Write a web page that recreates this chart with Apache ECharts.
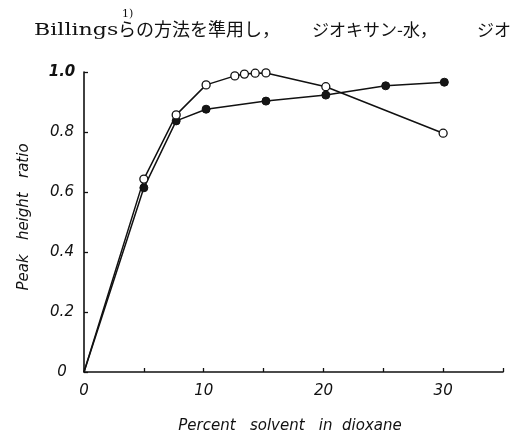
<!DOCTYPE html>
<html>
<head>
<meta charset="utf-8">
<script src="https://cdn.jsdelivr.net/npm/echarts@6.0.0/dist/echarts.min.js"></script>
<style>
  html, body { margin: 0; padding: 0; background: #fff; }
  #chart { width: 520px; height: 433px; }
</style>
</head>
<body>
<div id="chart"></div>
<script>
// Peak height ratio against percent solvent in dioxane
const percentOpen = [0, 5, 7.7, 10.2, 12.6, 13.4, 14.3, 15.2, 20.2, 30];
const ratioOpen = [0, 0.643, 0.857, 0.957, 0.987, 0.993, 0.996, 0.997, 0.951, 0.796];

const percentFilled = [0, 5, 7.7, 10.2, 15.2, 20.2, 25.2, 30.1];
const ratioFilled = [0, 0.614, 0.837, 0.876, 0.903, 0.923, 0.954, 0.966];

const xTickLabels = ['0', '10', '20', '30'];
const yTickLabels = ['0', '0.2', '0.4', '0.6', '0.8', '1.0'];

const ink = '#111';
const labelFont = 'DejaVu Sans, Liberation Sans, sans-serif';
const cjkFont = 'Noto Sans CJK JP, sans-serif';

// both curves start at the origin, which carries no marker
const pairs = (xs, ys) => xs.map((x, i) =>
  (x === 0 && ys[i] === 0) ? { value: [x, ys[i]], symbol: 'none' } : [x, ys[i]]);

const chart = echarts.init(document.getElementById('chart'), null, { renderer: 'canvas' });

chart.setOption({
  backgroundColor: '#fff',
  animation: false,
  grid: { left: 84, right: 17, top: 72, bottom: 61, containLabel: false },
  xAxis: {
    type: 'value',
    min: 0,
    max: 35,
    interval: 5,
    axisLine: { show: true, lineStyle: { color: ink, width: 1.6 } },
    axisTick: { show: true, inside: true, length: 4, lineStyle: { color: ink, width: 1.3 } },
    splitLine: { show: false },
    axisLabel: {
      margin: 12,
      color: ink,
      fontFamily: labelFont,
      fontStyle: 'italic',
      fontSize: 15,
      formatter: v => (v % 10 === 0 ? xTickLabels[v / 10] : '')
    }
  },
  yAxis: {
    type: 'value',
    min: 0,
    max: 1,
    interval: 0.2,
    axisLine: { show: true, lineStyle: { color: ink, width: 1.6 } },
    axisTick: { show: true, inside: true, length: 4, lineStyle: { color: ink, width: 1.3 } },
    splitLine: { show: false },
    axisLabel: {
      margin: 22,
      align: 'center',
      color: ink,
      fontFamily: labelFont,
      fontStyle: 'italic',
      fontSize: 15,
      formatter: v => {
        const i = Math.round(v / 0.2);
        return i === 5 ? '{top|' + yTickLabels[i] + '}' : yTickLabels[i];
      },
      rich: {
        top: { fontFamily: labelFont, fontStyle: 'italic', fontWeight: 'bold', fontSize: 15, color: ink }
      }
    }
  },
  series: [
    {
      name: 'filled',
      type: 'line',
      data: pairs(percentFilled, ratioFilled),
      symbol: 'circle',
      symbolSize: 8,
      showSymbol: true,
      lineStyle: { color: ink, width: 1.5 },
      itemStyle: { color: '#151515', borderColor: ink, borderWidth: 1 },
      z: 2
    },
    {
      name: 'open',
      type: 'line',
      data: pairs(percentOpen, ratioOpen),
      symbol: 'circle',
      symbolSize: 8,
      showSymbol: true,
      lineStyle: { color: ink, width: 1.5 },
      itemStyle: { color: '#fff', borderColor: ink, borderWidth: 1.3 },
      z: 3
    }
  ],
  graphic: [
    {
      type: 'text', left: 34, top: 22, scaleX: 1.3,
      style: { text: 'Billings', font: '17px "DejaVu Serif", "Liberation Serif", serif', fill: ink }
    },
    {
      type: 'text', left: 122, top: 9,
      style: { text: '1)', font: '11px "DejaVu Serif", "Liberation Serif", serif', fill: ink }
    },
    {
      type: 'text', left: 118, top: 20,
      style: { text: 'らの方法を準用し，', font: '18px ' + cjkFont, fill: ink }
    },
    {
      type: 'text', left: 312, top: 21,
      style: { text: 'ジオキサン-水，', font: '17px ' + cjkFont, fill: ink }
    },
    {
      type: 'text', left: 477, top: 21,
      style: { text: 'ジオ', font: '17px ' + cjkFont, fill: ink }
    },
    {
      type: 'text', x: 24, y: 217, rotation: Math.PI / 2,
      style: {
        text: 'Peak   height   ratio',
        font: 'italic 15px ' + labelFont,
        fill: ink, align: 'center', verticalAlign: 'middle'
      }
    },
    {
      type: 'text', x: 290, y: 426,
      style: {
        text: 'Percent   solvent   in  dioxane',
        font: 'italic 15px ' + labelFont,
        fill: ink, align: 'center', verticalAlign: 'middle'
      }
    }
  ]
});
</script>
</body>
</html>
